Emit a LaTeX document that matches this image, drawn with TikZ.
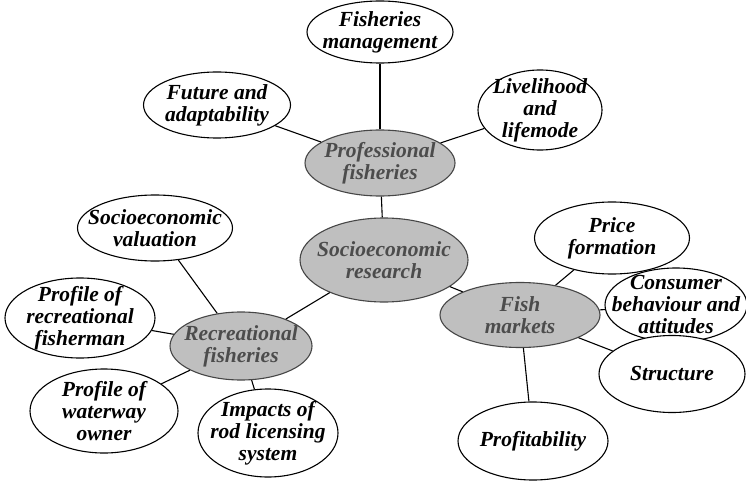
\documentclass[tikz,border=0pt]{standalone}
\usepackage{fontspec}
\setmainfont{Liberation Serif}
\usetikzlibrary{shapes.geometric}

\begin{document}
\begin{tikzpicture}[x=1pt,y=-1pt]
		\tikzset{topic/.style={ellipse, draw=black, line width=1.1pt, fill=white, inner sep=0pt}}
		\tikzset{hub/.style={topic, fill=gray!50, draw=gray!55!black}}
		\tikzset{words/.style={align=center, inner sep=0pt, font=\fontsize{21.5}{22}\selectfont\bfseries\itshape}}
		\tikzset{hubwords/.style={words, text=black!70}}
		\tikzset{link/.style={draw=black, line width=1.1pt}}
		\useasboundingbox (0,0) rectangle (746,481);
		% hubs
		\node[hub, minimum width=168pt, minimum height=84pt, label={[hubwords]center:Socioeconomic\\research}] at (384,260) (res) {};
		\node[hub, minimum width=150pt, minimum height=66pt, label={[hubwords]center:Professional\\fisheries}] at (380,163) (prof) {};
		\node[hub, minimum width=142pt, minimum height=68pt, label={[hubwords]center:Recreational\\fisheries}] at (241,346) (rec) {};
		\node[hub, minimum width=160pt, minimum height=65pt, label={[hubwords]center:Fish\\markets}] at (520,315) (mkt) {};
		% professional fisheries
		\node[topic, minimum width=146pt, minimum height=62pt, label={[words]center:Fisheries\\management}] at (380,32) (mgmt) {};
		\node[topic, minimum width=147pt, minimum height=66pt, label={[words]center:Future and\\adaptability}] at (217,105) (fut) {};
		\node[topic, minimum width=124pt, minimum height=80pt, label={[words]center:Livelihood\\and\\lifemode}] at (540,110) (live) {};
		% recreational fisheries
		\node[topic, minimum width=155pt, minimum height=66pt, label={[words]center:Socioeconomic\\valuation}] at (155,228) (val) {};
		\node[topic, minimum width=150pt, minimum height=80pt, label={[words]center:Profile of\\recreational\\fisherman}] at (80,318) (angler) {};
		\node[topic, minimum width=148pt, minimum height=84pt, label={[words]center:Profile of\\waterway\\owner}] at (104,411) (owner) {};
		\node[topic, minimum width=140pt, minimum height=88pt, label={[words]center:Impacts of\\rod licensing\\system}] at (268,433) (rod) {};
		% fish markets
		\node[topic, minimum width=155pt, minimum height=72pt, label={[words]center:Price\\formation}] at (612,238) (price) {};
		\node[topic, minimum width=142pt, minimum height=74pt, label={[words]center:Consumer\\behaviour and\\attitudes}] at (676,305) (cons) {};
		\node[topic, minimum width=146pt, minimum height=77pt, label={[words]center:Structure}] at (672,374) (struct) {};
		\node[topic, minimum width=150pt, minimum height=78pt, label={[words]center:Profitability}] at (533,441) (profit) {};
		% connectors
		\path[link] (res) -- (prof);
		\path[link] (res) -- (rec);
		\path[link] (res) -- (mkt);
		\path[link] (prof) -- (mgmt);
		\path[link] (prof) -- (fut);
		\path[link] (prof) -- (live);
		\path[link] (rec) -- (val);
		\path[link] (rec) -- (angler);
		\path[link] (rec) -- (owner);
		\path[link] (rec) -- (rod);
		\path[link] (mkt) -- (price);
		\path[link] (mkt) -- (cons);
		\path[link] (mkt) -- (struct);
		\path[link] (mkt) -- (profit);
	\end{tikzpicture}
\end{document}
